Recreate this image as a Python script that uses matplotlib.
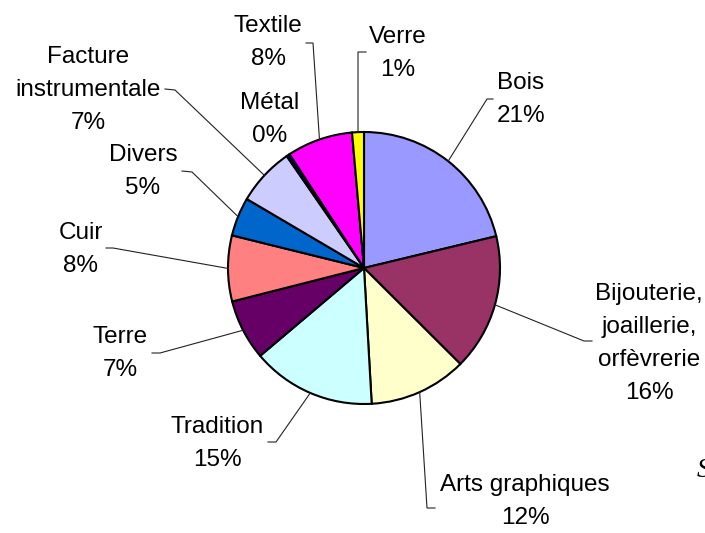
import matplotlib
matplotlib.use("Agg")
import matplotlib.pyplot as plt
import numpy as np

plt.rcParams['font.family'] = ['Liberation Sans', 'DejaVu Sans']

# ---- data ----
categories = ["Bois", "Bijouterie,\njoaillerie,\norfèvrerie", "Arts graphiques",
              "Tradition", "Terre", "Cuir", "Divers", "Facture\ninstrumentale",
              "Métal", "Textile", "Verre"]
values = [21.2, 16.2, 11.6, 14.7, 7.2, 7.8, 4.6, 6.9, 0.4, 7.8, 1.4]
colors = ["#9999FF", "#993366", "#FFFFCC", "#CCFFFF", "#660066", "#FF8080",
          "#0066CC", "#CCCCFF", "#000080", "#FF00FF", "#FFFF00"]

# ---- layout (pixel coordinates, y from top) ----
W, H = 705, 533
center_px = (364, 268)
radius = 136
# label x centre, first baseline y
label_pos = [(521, 89), (649, 300), (525, 491), (217, 433), (120, 343),
             (81, 239), (143, 161), (88, 63), (270, 109), (268, 32), (398, 43)]
# leader elbow point and end of short horizontal segment (None = no leader)
leader_elbows = [((487, 99), (493, 99)), ((584, 341), (592, 341)),
                 ((427, 508), (435, 508)), ((276, 442), (268, 442)),
                 ((160, 353), (152, 353)), ((113, 248), (106, 248)),
                 ((192, 172), (182, 171)), ((175, 90), (165, 89)),
                 None, ((313, 43), (306, 43)), ((358, 52), (366, 52))]
line_step = 33

fig = plt.figure(figsize=(W / 100, H / 100), dpi=100)
ax = fig.add_axes([0, 0, 1, 1])

cx, cy = center_px[0], H - center_px[1]
wedges, _ = ax.pie(values, colors=colors, startangle=90, counterclock=False,
                   center=(cx, cy), radius=radius, frame=True,
                   wedgeprops=dict(edgecolor='black', linewidth=1.5))
ax.set_xlim(0, W)
ax.set_ylim(0, H)
ax.axis('off')

total = sum(values)
for i, (cat, v, w) in enumerate(zip(categories, values, wedges)):
    pct = f"{round(v / total * 100):d}%"
    lines = cat.split("\n") + [pct]
    x0, y0 = label_pos[i]
    for j, ln in enumerate(lines):
        ax.text(x0, H - (y0 + j * line_step), ln, ha='center', va='baseline',
                fontsize=17.5, color='black')
    if leader_elbows[i] is not None:
        mid = np.deg2rad((w.theta1 + w.theta2) / 2)
        sx = cx + radius * np.cos(mid)
        sy = cy + radius * np.sin(mid)
        (ex, ey), (hx, hy) = leader_elbows[i]
        ax.plot([sx, ex, hx], [sy, H - ey, H - hy], color='#222222', lw=0.8,
                solid_joinstyle='miter')

# stray clipped character at right edge
ax.text(697, H - 477, "S", fontsize=20, fontstyle='italic',
        family=['Liberation Serif', 'DejaVu Serif'], ha='left', va='baseline')

fig.savefig("out.png", dpi=100)
